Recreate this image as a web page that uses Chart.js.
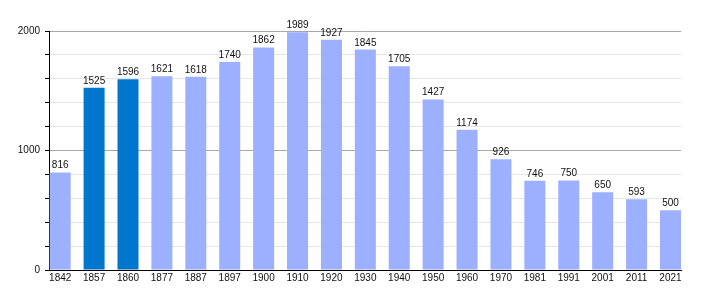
<!DOCTYPE html>
<html><head><meta charset="utf-8">
<script src="https://cdn.jsdelivr.net/npm/chart.js@4/dist/chart.umd.min.js"></script>
<style>html,body{margin:0;padding:0;background:#fff}#wrap{width:710px;height:300px}</style>
</head><body><div id="wrap"><canvas id="c" width="710" height="300"></canvas></div>
<script>
const years = ["1842","1857","1860","1877","1887","1897","1900","1910","1920","1930","1940","1950","1960","1970","1981","1991","2001","2011","2021"];
const population = [816,1525,1596,1621,1618,1740,1862,1989,1927,1845,1705,1427,1174,926,746,750,650,593,500];
const highlighted = ["1857","1860"];
const yTickLabels = [0,1000,2000];

const lightColor = "#9db0ff";
const darkColor = "#0077cc";
const FONT = "'Liberation Sans', Arial, sans-serif";

const labelPlugin = {
  id: "valueLabels",
  afterDatasetsDraw(chart) {
    const ctx = chart.ctx;
    const meta = chart.getDatasetMeta(0);
    ctx.save();
    ctx.font = "10px " + FONT;
    ctx.fillStyle = "#111";
    ctx.textAlign = "center";
    ctx.textBaseline = "alphabetic";
    meta.data.forEach((bar, i) => {
      ctx.fillText(String(population[i]), bar.x, bar.y - 4);
    });
    ctx.restore();
  }
};

new Chart(document.getElementById("c"), {
  type: "bar",
  data: {
    datasets: [{
      data: population.map((v, i) => ({ x: i, y: v })),
      backgroundColor: years.map(y => highlighted.includes(y) ? darkColor : lightColor),
      borderWidth: 0,
      barPercentage: 0.62,
      categoryPercentage: 1.0
    }]
  },
  options: {
    responsive: false,
    animation: false,
    devicePixelRatio: 1,
    layout: { padding: { top: 31, right: 29, left: 0, bottom: 0 } },
    plugins: { legend: { display: false }, tooltip: { enabled: false } },
    scales: {
      x: {
        type: "linear",
        min: -0.33,
        max: 18.31,
        offset: false,
        grid: { display: false, drawTicks: false },
        border: { display: true, color: "#000", width: 1 },
        afterBuildTicks(scale) { scale.ticks = years.map((_, i) => ({ value: i })); },
        ticks: {
          padding: 2,
          color: "#111",
          font: { family: FONT, size: 10 },
          maxRotation: 0, autoSkip: false,
          callback: v => years[v] !== undefined ? years[v] : ""
        },
        afterFit(scale) { scale.height = 30; }
      },
      y: {
        min: 0, max: 2000,
        border: { display: true, color: "#000", width: 1 },
        grid: {
          color: ctx => (ctx.tick && (ctx.tick.value === 1000 || ctx.tick.value === 2000)) ? "#a8a8a8" : "#e6e6e6",
          tickColor: "#000",
          tickLength: 4,
          drawTicks: true
        },
        ticks: {
          stepSize: 200,
          padding: 5,
          color: "#111",
          font: { family: FONT, size: 10 },
          callback: v => yTickLabels.includes(v) ? String(v) : ""
        },
        afterFit(scale) { scale.width = 49; }
      }
    }
  },
  plugins: [labelPlugin]
});
</script>
</body></html>
